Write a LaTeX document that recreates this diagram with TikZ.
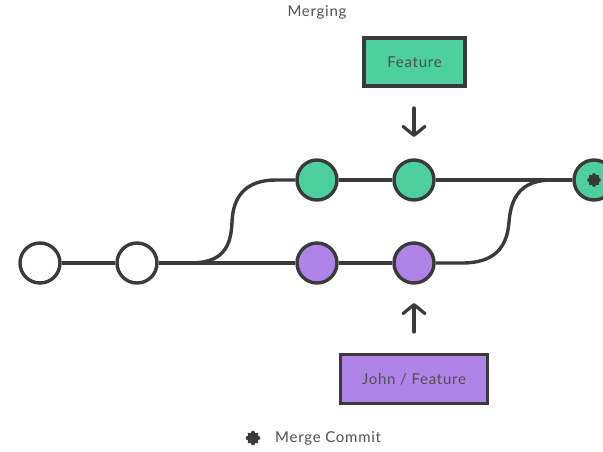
\documentclass[tikz,border=0pt]{standalone}
\usepackage{fontspec}
\setmainfont{Lato}[LetterSpace=5]
\usetikzlibrary{arrows.meta,calc}
\definecolor{ink}{HTML}{3A3A3A}
\definecolor{txt}{HTML}{505050}
\definecolor{featgreen}{HTML}{4DCF9E}
\definecolor{johnpurple}{HTML}{B083E8}
\tikzset{
  commit/.style={circle, draw=ink, line width=3.4pt, minimum size=40pt, inner sep=0pt},
  branchline/.style={draw=ink, line width=3.4pt},
  txtfont/.style={font=\fontsize{15}{18}\selectfont, text=txt},
  label box/.style={draw=ink, line width=3.4pt, rectangle, txtfont},
  pointer/.style={draw=ink, line width=3.2pt, line cap=round, -{Straight Barb[length=9pt,width=22pt,line width=3.2pt,round]}},
  asterisk/.style={draw=ink, line width=3.6pt, line cap=round}
}
\begin{document}
\begin{tikzpicture}[x=1pt,y=-1pt]
\useasboundingbox (0,0) rectangle (603,451);
\clip (0,0) rectangle (603,451);
\coordinate (lb) at (190,263);
\coordinate (lt) at (276,180);
\coordinate (rb) at (462,263);
\coordinate (rt) at (552,180);
\node[commit, fill=white] (c1) at (40,263) {};
\node[commit, fill=white] (c2) at (137,263) {};
\node[commit, fill=featgreen] (g1) at (317,180) {};
\node[commit, fill=featgreen] (g2) at (414,180) {};
\node[commit, fill=johnpurple] (p1) at (317,263) {};
\node[commit, fill=johnpurple] (p2) at (414,263) {};
\node[commit, fill=featgreen] (m) at (594,180) {};
\draw[branchline] (c1) -- (c2);
\draw[branchline] (c2) -- (p1);
\draw[branchline] (p1) -- (p2);
\draw[branchline] (g1) -- (g2);
\draw[branchline] (g2) -- (m);
\draw[branchline] (lb) .. controls (222,263) and (231,248) .. (232,222)
  .. controls (233,196) and (246,180) .. (lt) -- (g1);
\draw[branchline] (p2) -- (rb) .. controls (494,263) and (507,248) .. (509,222)
  .. controls (511,196) and (522,180) .. (rt);
\foreach \a in {0,45,90,135} {
  \draw[asterisk] ($(m)+(\a:5pt)$) -- ($(m)+(\a+180:5pt)$);
}
\node[label box, fill=featgreen, minimum width=101pt, minimum height=48pt] (feat) at (414.5,62) {Feature};
\node[label box, fill=johnpurple, minimum width=147pt, minimum height=49pt] (john) at (414,379) {John / Feature};
\coordinate (fa1) at (414,108);
\coordinate (fa2) at (414,137);
\coordinate (ja1) at (414,332);
\coordinate (ja2) at (414,303);
\draw[pointer] (fa1) -- (fa2);
\draw[pointer] (ja1) -- (ja2);
\node[txtfont] (title) at (317,12) {Merging};
\coordinate (leg) at (253,438);
\foreach \a in {0,45,90,135} {
  \draw[asterisk] ($(leg)+(\a:5.5pt)$) -- ($(leg)+(\a+180:5.5pt)$);
}
\node[txtfont, anchor=west, inner sep=0pt] (legtext) at (275,438) {Merge Commit};
\end{tikzpicture}
\end{document}
